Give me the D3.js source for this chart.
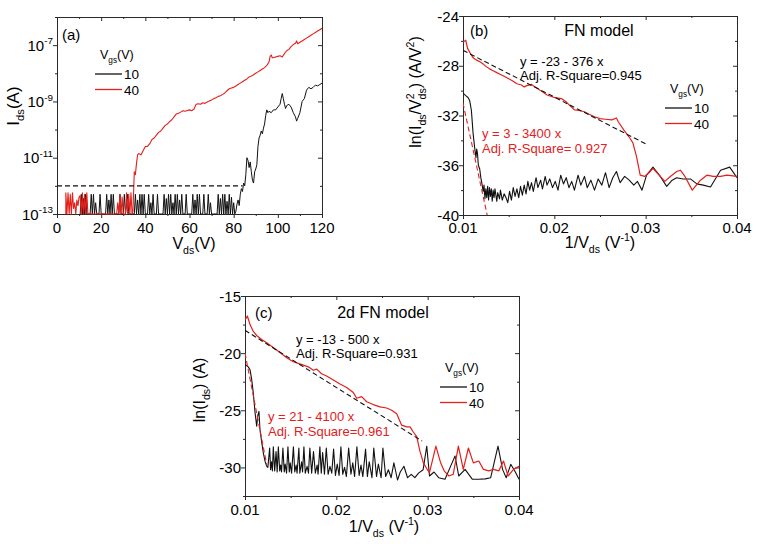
<!DOCTYPE html>
<html><head><meta charset="utf-8">
<script src="https://cdn.jsdelivr.net/npm/d3@7"></script>
<style>
body{margin:0;background:#fff}
text{font-family:"Liberation Sans",Arial,sans-serif;white-space:pre}
</style></head><body>
<svg id="chart" width="757" height="544"></svg>
<script>
// ---------------- DATA ----------------
const seriesNames = ["10", "40"];           // Vgs (V)
const seriesColors = ["#111111", "#e3201b"];

// Panel (a): Vds (V) vs log10(Ids/A)
const aTicksX = [0, 20, 40, 60, 80, 100, 120];
const aTicksXMinor = [10, 30, 50, 70, 90, 110];
const aTicksYExp = [-13, -11, -9, -7];
const aTicksYExpMinor = [-12, -10, -8, -6];
const aNoiseFloor = [[0, -12], [84, -12]];
const aBlack = [[10.5,-13],[11,-12.3],[11.5,-13],[12,-12.45],[12.5,-13],[13,-12.3],[13.5,-13],
[15,-13],[15.5,-12.3],[16,-13],[16.5,-12.3],[17,-13],[17.5,-12.6],[18,-13],[19,-13],[19.5,-12.3],[20,-13],
[22,-13],[22.5,-12.3],[23,-13],[23.5,-12.5],[24,-13],[24.5,-12.3],[25,-13],[25.5,-12.3],[26,-13],
[28,-13],[28.5,-12.3],[29,-13],[30,-13],[30.5,-12.3],[31,-13],[32,-12.3],[32.5,-13],
[35,-13],[35.5,-12.3],[36,-13],[36.5,-12.5],[37,-13],[37.5,-12.3],[38,-13],[38.5,-12.3],[39,-13],[39.5,-12.3],[40,-13],[41,-13],[41.5,-12.3],[42,-13],[42.5,-12.6],[43,-13],[43.5,-12.3],[44,-13],[45,-13],[45.5,-12.3],[46,-13],
[48,-13],[48.5,-12.3],[49,-13],[49.5,-12.45],[50,-13],[50.5,-12.3],[51,-13],[51.5,-12.3],[52,-13],[52.5,-12.6],[53,-13],[53.5,-12.3],[54,-13],[54.5,-12.3],[55,-13],[55.5,-12.5],[56,-13],[56.5,-12.3],[57,-13],[58,-13],[58.5,-12.3],[59,-13],
[61,-13],[61.5,-12.3],[62,-13],[62.5,-12.5],[63,-13],[63.5,-12.3],[64,-13],[64.5,-12.3],[65,-13],[66,-13],[66.5,-12.3],[67,-13],[68,-13],[68.5,-12.3],[69,-13],[69.5,-12.6],[70,-13],
[72.5,-13],[73,-12.3],[73.5,-13],[74,-12.45],[74.5,-13],[75,-12.3],[75.5,-13],[76,-12.3],[76.5,-13],[77,-12.55],[77.5,-13],[78,-12.3],[78.5,-13],[79,-12.4],[79.5,-13],[80,-12.6],[80.5,-13],
[81,-12.9],[81.5,-12.65],[82,-12.5],[82.5,-12.7],[83,-12.3],[83.5,-12.1],[84,-12.2],[84.5,-11.9],[85,-12.0],[85.5,-11.6],[86,-11.0],[86.5,-11.1],[87,-11.35],[87.5,-11.15],[88,-11.5],[88.5,-11.8],[89,-11.9],[89.5,-11.5],[90,-11.4],[90.5,-11.25],[91,-10.6],[91.5,-10.3],[92,-10.2],[92.5,-10.05],[93,-10.15],[93.5,-9.95],[94,-9.8],[94.5,-9.5],[95,-9.3],[95.5,-9.4],[96,-9.35],[97,-9.4],[98,-9.3],[99,-9.3],[100,-9.2],[101,-9.1],[101.5,-8.9],[102,-8.72],[102.5,-8.9],[103,-9.1],[103.5,-9.25],[104,-9.15],[105,-9.1],[106,-9.2],[107,-9.4],[108,-9.55],[108.5,-9.7],[109,-9.6],[110,-9.4],[110.5,-9.2],[111,-9.0],[112,-8.9],[113,-8.6],[114,-8.5],[115,-8.55],[116,-8.5],[117,-8.42],[118,-8.45],[119,-8.4],[120,-8.35]];
const aRed = [[4,-13],[4,-12.25],[4.5,-13],[5,-12.25],[5.5,-13],[6,-12.3],[6.5,-13],[7,-12.25],[7.5,-12.8],[8,-12.6],[8.5,-13],[9,-12.5],[9.5,-12.7],[10,-12.4],[10.5,-12.35],[11,-13],[11.5,-12.25],[12,-13],[12.5,-12.3],[13,-13],[13.5,-12.25],[14,-13],
[27,-13],[27.5,-12.6],[28,-13],[28.5,-12.3],[29,-13],[29.5,-12.4],[30,-13],[31,-13],[31.5,-12.25],[32,-13],[32.5,-12.3],[33,-13],[33.5,-12.25],[34,-13],[34.4,-12.9],
[35,-11.5],[35.5,-11.6],[36,-11.2],[36.5,-10.9],[37,-10.85],[38,-10.9],[39,-10.75],[40,-10.6],[41,-10.6],[42,-10.5],[43,-10.35],[44,-10.3],[45,-10.2],[46,-10.1],[47,-10.05],[48,-9.95],[49,-9.85],[50,-9.8],[51,-9.72],[52,-9.65],[53,-9.55],[54,-9.45],[55,-9.42],[56,-9.38],[57,-9.33],[58,-9.35],[59,-9.32],[60,-9.3],[61,-9.33],[62,-9.28],[63,-9.1],[64,-9.08],[65,-9.1],[66,-9.05],[67,-9.07],[68,-9.02],[69,-8.98],[70,-8.95],[71,-8.9],[72,-8.87],[73,-8.82],[74,-8.8],[75,-8.75],[76,-8.7],[77,-8.62],[78,-8.55],[79,-8.52],[80,-8.5],[81,-8.45],[82,-8.4],[83,-8.35],[84,-8.3],[85,-8.25],[86,-8.2],[87,-8.13],[88,-8.1],[89,-8.05],[90,-8.0],[91,-7.95],[92,-7.9],[93,-7.85],[94,-7.8],[95,-7.72],[96,-7.6],[96.5,-7.4],[97,-7.35],[97.5,-7.45],[98,-7.45],[99,-7.42],[100,-7.4],[101,-7.38],[102,-7.42],[103,-7.3],[104,-7.2],[105,-7.15],[106,-7.05],[107,-6.98],[108,-6.93],[108.5,-6.85],[109,-6.95],[110,-6.9],[111,-6.85],[112,-6.8],[113,-6.75],[114,-6.7],[115,-6.65],[116,-6.6],[117,-6.55],[118,-6.5],[119,-6.45],[120,-6.4]];

// Panel (b): 1/Vds vs ln(Ids/Vds^2)
const bTicksX = [0.01, 0.02, 0.03, 0.04];
const bTickLabelsX = ["0.01", "0.02", "0.03", "0.04"];
const bTicksXMinor = [0.015, 0.025, 0.035];
const bTicksY = [-24, -28, -32, -36, -40];
const bTicksYMinor = [-26, -30, -34, -38];
const bBlack = [[0.01,-30.2],[0.0103,-30.4],[0.01055,-30.55],[0.01073,-30.8],[0.01092,-31.6],[0.0111,-33.4],[0.01128,-34.6],[0.01142,-35.4],[0.0115,-34.7],[0.01158,-35.0],[0.01168,-36.0],[0.01183,-36.3],[0.01195,-37.0],[0.01208,-37.5],[0.0122,-38.1],[0.0123,-37.6],[0.0124,-38.7],[0.0125,-37.9],[0.0126,-38.6],[0.0127,-37.7],[0.0128,-38.8],[0.0129,-37.8],[0.013,-38.5],[0.0131,-37.9],[0.0132,-38.9],[0.0133,-38.0],[0.0134,-38.6],[0.0135,-37.9],[0.0137,-38.9],[0.0138,-38.2],[0.014,-38.7],[0.0141,-38.0],[0.0143,-38.8],[0.0145,-38.3],[0.0147,-38.6],[0.0149,-39.0],[0.0151,-38.1],[0.0153,-38.8],[0.0155,-37.8],[0.0157,-38.5],[0.0159,-37.9],[0.0161,-38.6],[0.0163,-37.7],[0.0165,-38.4],[0.0167,-37.6],[0.0169,-38.3],[0.0171,-37.3],[0.0173,-38.0],[0.0175,-37.4],[0.0177,-38.1],[0.018,-37.0],[0.0182,-37.8],[0.0185,-37.2],[0.0187,-37.9],[0.019,-36.9],[0.0192,-37.6],[0.0195,-37.1],[0.0198,-37.8],[0.0201,-37.3],[0.0204,-38.0],[0.0207,-36.8],[0.021,-37.5],[0.0213,-37.0],[0.0216,-37.8],[0.0219,-37.3],[0.0222,-38.0],[0.0226,-36.8],[0.0229,-37.6],[0.0233,-36.9],[0.0236,-37.8],[0.024,-37.2],[0.0244,-38.0],[0.0248,-37.1],[0.0252,-37.6],[0.0256,-36.6],[0.026,-37.8],[0.0264,-37.0],[0.0268,-36.5],[0.0272,-37.4],[0.0277,-36.9],[0.0282,-37.2],[0.0287,-37.6],[0.0291,-37.3],[0.0296,-38.0],[0.0301,-36.8],[0.0308,-36.15],[0.0316,-36.9],[0.0323,-37.7],[0.0329,-37.2],[0.0334,-37.0],[0.0341,-37.1],[0.0349,-37.1],[0.0356,-37.5],[0.0363,-37.6],[0.0371,-37.75],[0.0382,-36.4],[0.0392,-36.15],[0.04,-37.0]];
const bRed = [[0.01,-26.1],[0.0103,-25.95],[0.0105,-26.6],[0.0108,-27.0],[0.0111,-27.35],[0.0115,-27.55],[0.0119,-27.7],[0.0122,-27.85],[0.0125,-28.05],[0.0129,-28.25],[0.0133,-28.4],[0.0137,-28.55],[0.0141,-28.7],[0.0145,-28.85],[0.0149,-29.0],[0.0154,-29.2],[0.0159,-29.45],[0.0164,-29.55],[0.0167,-29.7],[0.017,-29.6],[0.0175,-29.5],[0.0179,-29.7],[0.0182,-29.85],[0.0185,-30.0],[0.0189,-30.2],[0.0192,-30.35],[0.0196,-30.45],[0.02,-30.55],[0.0204,-30.6],[0.0208,-30.65],[0.0213,-30.9],[0.0217,-31.2],[0.0222,-31.55],[0.0227,-31.6],[0.0233,-31.7],[0.0238,-31.9],[0.0244,-32.1],[0.025,-32.25],[0.0256,-32.3],[0.0263,-32.35],[0.0268,-32.2],[0.027,-32.5],[0.0276,-33.15],[0.0283,-33.85],[0.0286,-34.2],[0.029,-35.3],[0.0294,-36.8],[0.0299,-36.9],[0.0305,-36.5],[0.0308,-36.25],[0.0316,-36.9],[0.0321,-37.3],[0.0327,-36.9],[0.0334,-36.5],[0.0338,-36.4],[0.0343,-36.9],[0.0351,-38.0],[0.036,-37.2],[0.0367,-36.8],[0.0374,-36.9],[0.0382,-36.9],[0.0389,-36.8],[0.04,-36.9]];
const bFitBlack = {intercept: -23, slope: -376, from: 0.01, to: 0.03};
const bFitRed = {intercept: 3, slope: -3400, from: 0.01, to: 0.01265};

// Panel (c): 1/Vds vs ln(Ids)
const cTicksX = [0.01, 0.02, 0.03, 0.04];
const cTickLabelsX = ["0.01", "0.02", "0.03", "0.04"];
const cTicksXMinor = [0.015, 0.025, 0.035];
const cTicksY = [-15, -20, -25, -30];
const cTicksYMinor = [-17.5, -22.5, -27.5, -32.5];
const cBlack = [[0.01,-21.0],[0.01036,-21.2],[0.01055,-21.45],[0.01073,-22.3],[0.01091,-23.5],[0.0111,-25.2],[0.01128,-26.4],[0.01139,-25.5],[0.01153,-25.1],[0.01164,-26.7],[0.01183,-27.8],[0.012,-28.7],[0.01219,-29.45],[0.01238,-29.9],
[0.0125,-30.0],[0.0127,-28.3],[0.0128,-30.2],[0.0129,-29.5],[0.013,-30.3],[0.0131,-28.2],[0.01325,-30.3],[0.0134,-28.6],[0.01352,-30.4],[0.01365,-28.2],[0.0138,-30.3],[0.0139,-29.8],[0.014,-30.4],[0.01415,-28.3],[0.0143,-30.4],[0.0144,-29.7],[0.01455,-30.5],[0.0147,-28.2],[0.01485,-30.4],[0.01495,-29.6],[0.0151,-30.5],[0.0153,-28.2],[0.01545,-30.4],[0.0156,-29.8],[0.0157,-30.5],[0.0159,-28.3],[0.016,-30.5],[0.0162,-29.5],[0.0163,-30.4],[0.01645,-28.2],[0.0166,-30.5],[0.0168,-29.9],[0.01695,-30.5],[0.0171,-28.3],[0.0173,-30.5],[0.0175,-28.6],[0.0177,-30.5],[0.0179,-29.8],[0.018,-30.6],[0.0182,-28.2],[0.01835,-30.5],[0.0185,-28.7],[0.0187,-30.6],[0.0189,-28.3],[0.0191,-30.6],[0.0193,-29.9],[0.0195,-30.5],[0.0197,-28.4],[0.0199,-30.7],[0.0201,-29.7],[0.0203,-30.7],[0.0205,-28.2],[0.0207,-30.6],[0.0209,-30.0],[0.0211,-30.8],[0.02135,-28.3],[0.0216,-30.6],[0.0218,-29.6],[0.022,-30.8],[0.02225,-28.2],[0.0225,-30.7],[0.0227,-29.8],[0.0229,-30.8],[0.0232,-28.4],[0.0234,-30.8],[0.0236,-29.5],[0.0239,-30.9],[0.0241,-28.3],[0.0244,-30.8],[0.0246,-29.7],[0.0249,-30.9],[0.0251,-28.3],[0.0254,-30.8],[0.0257,-30.2],[0.026,-30.9],[0.0263,-29.6],[0.0267,-31.1],[0.027,-30.4],[0.0274,-29.9],[0.0278,-30.9],[0.0282,-30.6],[0.0286,-30.9],[0.029,-30.5],[0.0295,-30.2],[0.0299,-28.14],[0.0302,-30.75],[0.0307,-30.4],[0.0312,-30.9],[0.0319,-31.04],[0.0326,-29.73],[0.033,-29.0],[0.0334,-30.75],[0.0341,-30.17],[0.0349,-31.04],[0.0356,-31.04],[0.0363,-31.0],[0.0369,-30.9],[0.0377,-28.14],[0.0382,-30.17],[0.0386,-30.9],[0.0391,-29.73],[0.0396,-30.4],[0.04,-31.04]];
const cRed = [[0.01,-17.1],[0.01026,-16.75],[0.01055,-17.5],[0.01091,-18.1],[0.01128,-18.45],[0.01182,-18.8],[0.01237,-19.1],[0.0131,-19.5],[0.01383,-19.95],[0.01456,-20.4],[0.01529,-20.75],[0.01566,-20.85],[0.01639,-21.05],[0.01693,-21.2],[0.01748,-21.5],[0.01785,-21.4],[0.01839,-21.8],[0.01894,-22.0],[0.01967,-22.35],[0.0204,-22.7],[0.02113,-23.0],[0.02186,-23.45],[0.02223,-23.95],[0.02277,-23.8],[0.02332,-24.25],[0.02405,-24.5],[0.02478,-24.7],[0.02551,-24.8],[0.02606,-25.0],[0.02661,-25.3],[0.02715,-26.3],[0.0277,-26.45],[0.02807,-26.45],[0.02843,-26.9],[0.0288,-27.3],[0.02916,-28.6],[0.02953,-29.6],
[0.02989,-30.1],[0.0302,-30.46],[0.0309,-28.14],[0.03142,-29.6],[0.0318,-30.3],[0.03233,-30.75],[0.0328,-30.6],[0.03336,-28.14],[0.0339,-30.17],[0.03446,-28.3],[0.035,-29.6],[0.0356,-29.44],[0.0361,-30.17],[0.0367,-30.3],[0.0372,-30.17],[0.0378,-30.3],[0.0383,-29.44],[0.0388,-30.75],[0.0394,-30.17],[0.04,-29.9]];
const cFitBlack = {intercept: -13, slope: -500, from: 0.01, to: 0.0294};
const cFitRed = {intercept: 21, slope: -4100, from: 0.01, to: 0.0124};

// ---------------- DRAWING ----------------
const svg = d3.select("#chart");
svg.append("rect").attr("width", 757).attr("height", 544).attr("fill", "#fff");
const AX = "#2a2a2a";

function rich(g, x, y, parts, size, opts = {}) {
  const t = g.append("text").attr("x", x).attr("y", y).attr("font-size", size)
    .attr("fill", opts.fill || "#000").attr("text-anchor", opts.anchor || "start");
  if (opts.rotate) t.attr("transform", `rotate(-90,${x},${y})`);
  let cur = 0;
  parts.forEach(p => {
    const [s, type, dx] = typeof p === "string" ? [p, "n", 0] : p;
    const off = type === "sub" ? size * 0.32 : type === "sup" ? -size * 0.42 : 0;
    const ts = t.append("tspan").text(s).attr("dy", off - cur)
      .attr("font-size", type === "n" ? size : size * 0.66);
    if (dx) ts.attr("dx", dx);
    cur = off;
  });
  return t;
}

let clipId = 0;
function panel(x, y, xMaj, xMin, yMaj, yMin) {
  const g = svg.append("g");
  const [x0, x1] = x.range(), [y0, y1] = y.range(); // y0 bottom, y1 top
  const mk = (axis, tr, vals, size) => {
    const a = g.append("g").attr("transform", tr)
      .call(axis.tickValues(vals).tickSize(size).tickSizeOuter(0).tickFormat(""));
    a.select(".domain").remove();
    a.selectAll("line").attr("stroke", AX);
  };
  mk(d3.axisLeft(y), `translate(${x0},0)`, yMaj, 4);
  mk(d3.axisLeft(y), `translate(${x0},0)`, yMin, 2);
  mk(d3.axisRight(y), `translate(${x1},0)`, yMaj, -4);
  mk(d3.axisRight(y), `translate(${x1},0)`, yMin, -2);
  mk(d3.axisBottom(x), `translate(0,${y0})`, xMaj, 4);
  mk(d3.axisBottom(x), `translate(0,${y0})`, xMin, 2);
  mk(d3.axisTop(x), `translate(0,${y1})`, xMaj, -4);
  mk(d3.axisTop(x), `translate(0,${y1})`, xMin, -2);
  g.append("rect").attr("x", x0 + 0.5).attr("y", y1 + 0.5)
    .attr("width", x1 - x0).attr("height", y0 - y1)
    .attr("fill", "none").attr("stroke", AX).attr("stroke-width", 1);
  const id = "clip" + (clipId++);
  svg.append("clipPath").attr("id", id).append("rect")
    .attr("x", x0).attr("y", y1).attr("width", x1 - x0).attr("height", y0 - y1 + 1);
  const data = svg.append("g").attr("clip-path", `url(#${id})`);
  return {g, data};
}

function drawLine(g, pts, line, color, w, dash) {
  const p = g.append("path").datum(pts).attr("d", line).attr("fill", "none")
    .attr("stroke", color).attr("stroke-width", w).attr("stroke-linejoin", "round");
  if (dash) p.attr("stroke-dasharray", dash);
}
function fitPts(f) { return [[f.from, f.intercept + f.slope * f.from], [f.to, f.intercept + f.slope * f.to]]; }

function legend(g, x, y, size) {
  rich(g, x + 2, y - 5, ["V", ["gs", "sub"], "(V)"], 12.5);
  seriesNames.forEach((n, i) => {
    const ly = y + 10 + i * 15.5;
    g.append("line").attr("x1", x - 3).attr("x2", x + 24).attr("y1", ly).attr("y2", ly)
      .attr("stroke", seriesColors[i]).attr("stroke-width", 1.3);
    g.append("text").attr("x", x + 26).attr("y", ly + 5).attr("font-size", size).text(n);
  });
}

// ---- Panel (a)
{
  const x = d3.scaleLinear([0, 120], [57, 322]);
  const y = d3.scaleLog([1e-13, 1e-6], [214, 17]);
  const {g, data} = panel(x, y, aTicksX, aTicksXMinor,
    aTicksYExp.map(e => Math.pow(10, e)), aTicksYExpMinor.map(e => Math.pow(10, e)));
  const line = d3.line().x(d => x(d[0])).y(d => y(Math.pow(10, d[1])));
  drawLine(data, aBlack, line, seriesColors[0], 1.0);
  drawLine(data, aRed, line, seriesColors[1], 1.1);
  drawLine(data, aNoiseFloor, line, "#111", 1.2, "5,3");
  aTicksX.forEach(v => g.append("text").attr("x", x(v)).attr("y", 233)
    .attr("text-anchor", "middle").attr("font-size", 15).text(v));
  aTicksYExp.forEach(e => rich(g, 53, y(Math.pow(10, e)) + 5.5, ["10", ["" + e, "sup"]], 15, {anchor: "end"}));
  g.append("text").attr("x", 62).attr("y", 40).attr("font-size", 15).text("(a)");
  rich(g, 194, 249, ["V", ["ds", "sub"], "(V)"], 16, {anchor: "middle"});
  rich(g, 19, 106, ["I", ["ds", "sub"], "(A)"], 17, {anchor: "middle", rotate: true});
  legend(g, 98, 64, 13.5);
}

// ---- Panel (b)
{
  const x = d3.scaleLinear([0.01, 0.04], [463, 737]);
  const y = d3.scaleLinear([-40, -24], [215, 16]);
  const {g, data} = panel(x, y, bTicksX, bTicksXMinor, bTicksY, bTicksYMinor);
  const line = d3.line().x(d => x(d[0])).y(d => y(d[1]));
  drawLine(data, bBlack, line, seriesColors[0], 1.1);
  drawLine(data, bRed, line, seriesColors[1], 1.2);
  drawLine(data, fitPts(bFitBlack), line, "#111", 1.1, "5,3");
  drawLine(data, fitPts(bFitRed), line, seriesColors[1], 1.1, "5,3");
  bTicksX.forEach((v, i) => g.append("text").attr("x", x(v)).attr("y", 233)
    .attr("text-anchor", "middle").attr("font-size", 15).text(bTickLabelsX[i]));
  bTicksY.forEach(v => g.append("text").attr("x", 459).attr("y", y(v) + 5.5)
    .attr("text-anchor", "end").attr("font-size", 15).text(v));
  g.append("text").attr("x", 470).attr("y", 36).attr("font-size", 15).text("(b)");
  g.append("text").attr("x", 599).attr("y", 36).attr("font-size", 16).attr("text-anchor", "middle").text("FN model");
  g.append("text").attr("x", 520).attr("y", 66).attr("font-size", 13).text("y = -23 - 376 x");
  g.append("text").attr("x", 520).attr("y", 80).attr("font-size", 13).text("Adj. R-Square=0.945");
  g.append("text").attr("x", 482).attr("y", 138).attr("font-size", 13).attr("fill", seriesColors[1]).text("y = 3 - 3400 x");
  g.append("text").attr("x", 482).attr("y", 153).attr("font-size", 13).attr("fill", seriesColors[1]).text("Adj. R-Square= 0.927");
  rich(g, 600, 248, ["1/V", ["ds", "sub"], " (V", ["-1", "sup"], ")"], 16, {anchor: "middle"});
  rich(g, 421, 92, ["ln(I", ["ds", "sub"], "/V", ["2", "sup"], ["ds", "sub", -6], ") (A/V", ["2", "sup"], ")"], 16, {anchor: "middle", rotate: true});
  legend(g, 668, 98, 13.5);
}

// ---- Panel (c)
{
  const x = d3.scaleLinear([0.01, 0.04], [245, 519]);
  const y = d3.scaleLinear([-32.5, -15], [496, 296]);
  const {g, data} = panel(x, y, cTicksX, cTicksXMinor, cTicksY, cTicksYMinor);
  const line = d3.line().x(d => x(d[0])).y(d => y(d[1]));
  drawLine(data, cBlack, line, seriesColors[0], 1.1);
  drawLine(data, cRed, line, seriesColors[1], 1.2);
  drawLine(data, fitPts(cFitBlack), line, "#111", 1.1, "5,3");
  drawLine(data, fitPts(cFitRed), line, seriesColors[1], 1.1, "5,3");
  cTicksX.forEach((v, i) => g.append("text").attr("x", x(v)).attr("y", 515)
    .attr("text-anchor", "middle").attr("font-size", 15).text(cTickLabelsX[i]));
  cTicksY.forEach(v => g.append("text").attr("x", 241).attr("y", y(v) + 5.5)
    .attr("text-anchor", "end").attr("font-size", 15).text(v));
  g.append("text").attr("x", 255).attr("y", 318).attr("font-size", 15).text("(c)");
  g.append("text").attr("x", 383).attr("y", 318).attr("font-size", 16).attr("text-anchor", "middle").text("2d FN model");
  g.append("text").attr("x", 296).attr("y", 344).attr("font-size", 13).text("y = -13 - 500 x");
  g.append("text").attr("x", 296).attr("y", 358).attr("font-size", 13).text("Adj. R-Square=0.931");
  g.append("text").attr("x", 268).attr("y", 421).attr("font-size", 13).attr("fill", seriesColors[1]).text("y = 21 - 4100 x");
  g.append("text").attr("x", 268).attr("y", 436).attr("font-size", 13).attr("fill", seriesColors[1]).text("Adj. R-Square=0.961");
  rich(g, 384, 532, ["1/V", ["ds", "sub"], " (V", ["-1", "sup"], ")"], 16, {anchor: "middle"});
  rich(g, 205, 390, ["ln(I", ["ds", "sub"], ") (A)"], 16, {anchor: "middle", rotate: true});
  legend(g, 443, 377, 13.5);
}
</script>
</body></html>
